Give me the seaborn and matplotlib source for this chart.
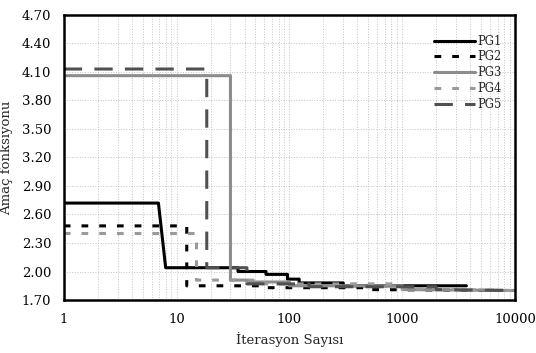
import numpy as np
import pandas as pd
import seaborn as sns
import matplotlib.pyplot as plt
from matplotlib.ticker import FixedLocator, FormatStrFormatter, LogLocator, NullFormatter

# Data (step curves)
pg1_x = [1, 6.9, 8, 35, 35, 62, 62, 96, 96, 122, 122, 300, 300, 3700]
pg1_y = [2.72, 2.72, 2.04, 2.04, 2.00, 2.00, 1.97, 1.97, 1.92, 1.92, 1.88, 1.88, 1.85, 1.85]

pg2_x = [1, 10.2, 12.3, 12.3, 60, 60, 500, 500, 10000]
pg2_y = [2.48, 2.48, 2.48, 1.85, 1.85, 1.83, 1.83, 1.81, 1.80]

pg3_x = [1, 30, 30, 42, 42, 100, 100, 1000, 1000, 10000]
pg3_y = [4.06, 4.06, 1.91, 1.91, 1.89, 1.89, 1.85, 1.85, 1.81, 1.80]

pg4_x = [1, 15, 15, 60, 60, 1000, 1000, 10000]
pg4_y = [2.40, 2.40, 1.91, 1.91, 1.87, 1.87, 1.82, 1.80]

pg5_x = [1, 18.5, 18.5, 42, 42, 150, 150, 2000, 2000, 10000]
pg5_y = [4.13, 4.13, 2.04, 2.04, 1.87, 1.87, 1.84, 1.84, 1.81, 1.80]

names = ["PG1", "PG2", "PG3", "PG4", "PG5"]
y_ticks = [1.70, 2.00, 2.30, 2.60, 2.90, 3.20, 3.50, 3.80, 4.10, 4.40, 4.70]

sns.set_theme(style="white")
plt.rcParams["font.family"] = ["DejaVu Serif"]

fig = plt.figure(figsize=(5.36, 3.53), dpi=100)
ax = fig.add_axes([0.119, 0.150, 0.842, 0.808])

styles = [
    dict(color="black", lw=2.2, linestyle="-"),
    dict(color="black", lw=2.2, linestyle=(0, (2.2, 3.6))),
    dict(color="#8c8c8c", lw=2.2, linestyle="-"),
    dict(color="#9a9a9a", lw=2.2, linestyle=(0, (2.2, 3.6))),
    dict(color="#505050", lw=2.2, linestyle=(0, (6.0, 4.0))),
]
series = [(pg1_x, pg1_y), (pg2_x, pg2_y), (pg3_x, pg3_y), (pg4_x, pg4_y), (pg5_x, pg5_y)]

for name, (xs, ys), st in zip(names, series, styles):
    df = pd.DataFrame({"x": xs, "y": ys})
    sns.lineplot(data=df, x="x", y="y", estimator=None, sort=False,
                 label=name, ax=ax, **st)

ax.set_xscale("log")
ax.set_xlim(1, 10000)
ax.set_ylim(1.70, 4.70)
ax.yaxis.set_major_locator(FixedLocator(y_ticks))
ax.yaxis.set_major_formatter(FormatStrFormatter("%.2f"))
ax.xaxis.set_major_locator(FixedLocator([1, 10, 100, 1000, 10000]))
ax.set_xticklabels(["1", "10", "100", "1000", "10000"])
ax.xaxis.set_minor_locator(LogLocator(base=10, subs=np.arange(2, 10)))
ax.xaxis.set_minor_formatter(NullFormatter())

ax.grid(True, which="major", axis="both", color="#c4c4c4", linestyle=":", lw=0.7)
ax.grid(True, which="minor", axis="x", color="#c4c4c4", linestyle=":", lw=0.7)

for sp in ax.spines.values():
    sp.set_color("black")
    sp.set_linewidth(1.8)

ax.tick_params(axis="both", which="major", direction="out", length=3, width=1,
               labelsize=9.5, colors="black", pad=6)
ax.tick_params(axis="x", which="minor", length=0)

ax.set_xlabel("İterasyon Sayısı", fontsize=9.5, labelpad=5)
ax.set_ylabel("Amaç fonksiyonu", fontsize=9.5, labelpad=6)

ax.legend(loc="upper right", bbox_to_anchor=(0.985, 0.955), frameon=False,
          fontsize=8.3, handlelength=3.6, handletextpad=0.15, labelspacing=0.25,
          borderaxespad=0.2)

fig.savefig("out.png", dpi=100)
